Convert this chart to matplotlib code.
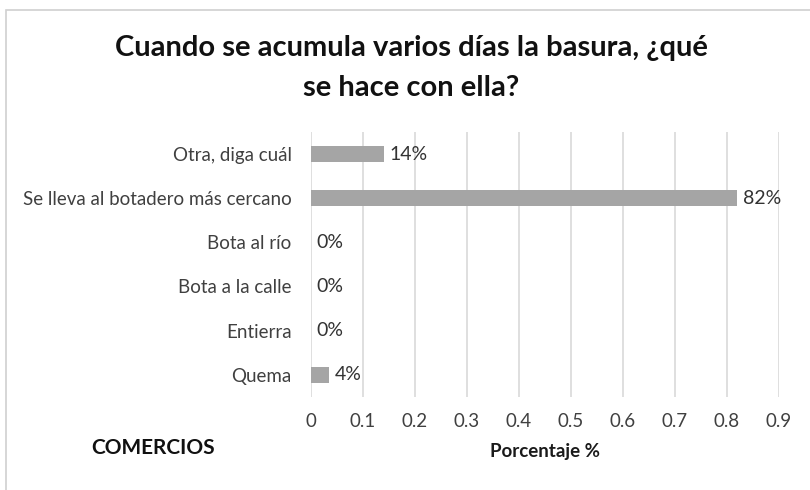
import matplotlib.pyplot as plt
from matplotlib.patches import Rectangle

categories = ["Quema", "Entierra", "Bota a la calle", "Bota al río",
              "Se lleva al botadero más cercano", "Otra, diga cuál"]
values = [0.035, 0.0, 0.0, 0.0, 0.82, 0.14]
labels = ["4%", "0%", "0%", "0%", "82%", "14%"]
xticks = [0, 0.1, 0.2, 0.3, 0.4, 0.5, 0.6, 0.7, 0.8, 0.9]

plt.rcParams['font.family'] = ['Lato', 'DejaVu Sans']

fig = plt.figure(figsize=(8.1, 4.9), dpi=100)

# chart border (only top and left edges fall inside the canvas)
fig.patches.append(Rectangle((6 / 810, -0.1), 1.2, 1 - 10 / 490 + 0.1,
                             transform=fig.transFigure, fill=False,
                             edgecolor="#d0d0d0", linewidth=1.2))

ax = fig.add_axes([311 / 810, 0.1904, 468 / 810, 0.5398])
y = range(len(categories))
ax.barh(y, values, height=0.36, color="#a5a5a5", zorder=3)

for yi, v, lab in zip(y, values, labels):
    ax.text(v + 0.01, yi, lab, va="center", ha="left", fontsize=14, color="#333333")

ax.set_xlim(0, 0.9)
ax.set_ylim(-0.5, len(categories) - 0.5)
ax.set_xticks(xticks)
ax.set_xticklabels([f"{t:g}" for t in xticks])
ax.set_yticks(list(y))
ax.set_yticklabels(categories)
ax.tick_params(axis="both", length=0, labelsize=13.5, colors="#404040")
ax.tick_params(axis="x", pad=12)
ax.tick_params(axis="y", pad=14)
ax.xaxis.grid(True, color="#d9d9d9", linewidth=1.2, zorder=0)
for s in ax.spines.values():
    s.set_visible(False)

ax.set_xlabel("Porcentaje %", fontsize=13.5, fontweight="bold", color="#1a1a1a", labelpad=9)

fig.text(411 / 810, 1 - 48 / 490, "Cuando se acumula varios días la basura, ¿qué",
         ha="center", va="center", fontsize=21, fontweight="bold", color="#111111")
fig.text(411 / 810, 1 - 88 / 490, "se hace con ella?",
         ha="center", va="center", fontsize=21, fontweight="bold", color="#111111")
fig.text(153 / 810, 1 - 448 / 490, "COMERCIOS", ha="center", va="center",
         fontsize=15, fontweight="bold", color="#111111")

fig.savefig("out.png", dpi=100)
